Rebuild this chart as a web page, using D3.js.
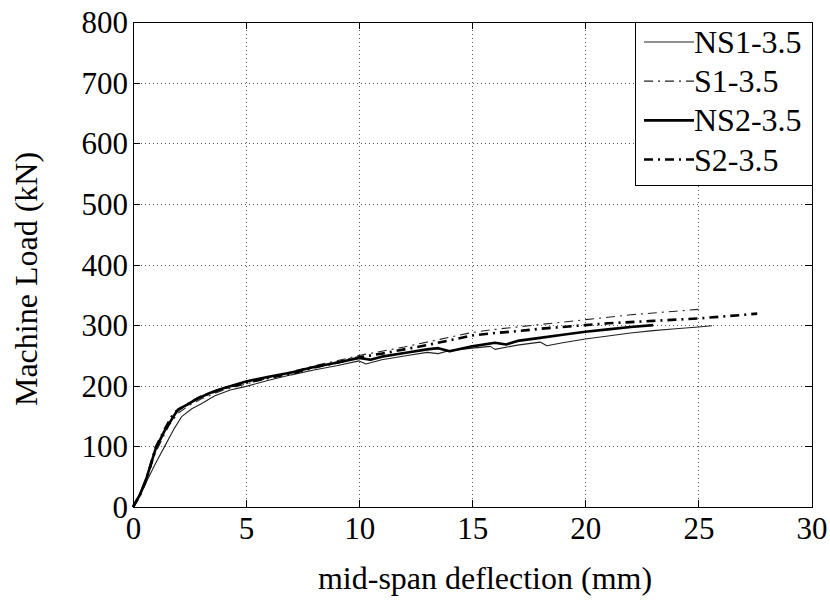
<!DOCTYPE html>
<html>
<head>
<meta charset="utf-8">
<script src="https://cdn.jsdelivr.net/npm/d3@7"></script>
<style>
  html, body { margin: 0; padding: 0; background: #fff; }
  svg { display: block; }
  text { font-family: "Liberation Serif", "Times New Roman", serif; fill: #000; }
</style>
</head>
<body>
<svg id="chart" width="830" height="603"></svg>
<script>
// Load–deflection readings for the four beams (deflection in mm, load in kN)
const seriesNames = ["NS1-3.5", "S1-3.5", "NS2-3.5", "S2-3.5"];

const ns1Defl = [0, 0.3, 0.6, 1.0, 1.4, 1.8, 2.15, 2.6, 3.0, 3.6, 4.3, 5.0, 6, 7, 8, 9, 10, 10.3, 11, 12, 13, 13.5, 14, 15, 15.8, 16, 17, 18, 18.3, 19, 20, 21, 22, 23, 24, 25, 25.6];
const ns1Load = [0, 18, 42, 72, 100, 128, 149, 162, 170, 183, 193, 199, 209, 218, 226, 233, 241, 236, 243, 249, 255, 253, 258, 262, 265, 260, 267, 272, 266, 271, 277, 282, 287, 291, 294, 297, 299];

const s1Defl = [0, 0.3, 0.6, 1.0, 1.6, 2.0, 2.5, 3, 4, 5, 6, 7, 8, 9, 10, 11, 12, 13, 14, 15, 16, 17, 18, 19, 20, 21, 22, 23, 24, 25];
const s1Load = [0, 18, 44, 90, 135, 155, 168, 178, 193, 203, 213, 223, 233, 241, 250, 257, 264, 272, 280, 288, 293, 297, 301, 305, 309, 313, 317, 320, 323, 326];

const ns2Defl = [0, 0.3, 0.6, 1.0, 1.4, 1.8, 2.0, 2.4, 2.8, 3.4, 4.0, 5, 6, 7, 8, 9, 10, 10.5, 11, 12, 13, 13.5, 14, 15, 16, 16.5, 17, 18, 19, 20, 21, 22, 23];
const ns2Load = [0, 20, 48, 96, 126, 150, 161, 169, 178, 188, 196, 207, 215, 222, 231, 238, 246, 243, 248, 254, 260, 262, 257, 265, 271, 268, 274, 279, 284, 289, 293, 297, 300];

const s2Defl = [0, 0.3, 0.6, 1.0, 1.4, 1.8, 2.2, 3, 4, 5, 6, 7, 8, 9, 10, 11, 12, 13, 14, 15, 16, 17, 18, 19, 20, 21, 22, 23, 24, 25, 26, 27, 27.6];
const s2Load = [0, 19, 46, 98, 128, 155, 165, 182, 196, 205, 213, 220, 230, 238, 247, 253, 260, 267, 275, 283, 287, 290, 294, 297, 300, 303, 305, 307, 309, 311, 314, 317, 319];

const xTicks = [0, 5, 10, 15, 20, 25, 30];
const yTicks = [0, 100, 200, 300, 400, 500, 600, 700, 800];

const svg = d3.select("#chart");
const plot = { left: 133, right: 811.5, top: 22, bottom: 507 };

const x = d3.scaleLinear().domain([0, 30]).range([plot.left, plot.right]);
const y = d3.scaleLinear().domain([0, 800]).range([plot.bottom, plot.top]);

// Dotted grid
const grid = svg.append("g").attr("stroke", "#555").attr("stroke-width", 1)
  .attr("stroke-dasharray", "1,3").attr("shape-rendering", "crispEdges");
grid.selectAll("line.gx").data(xTicks.slice(1, -1)).join("line")
  .attr("x1", d => Math.round(x(d)) + 0.5).attr("x2", d => Math.round(x(d)) + 0.5)
  .attr("y1", plot.top).attr("y2", plot.bottom);
grid.selectAll("line.gy").data(yTicks.slice(1, -1)).join("line")
  .attr("y1", d => Math.round(y(d)) + 0.5).attr("y2", d => Math.round(y(d)) + 0.5)
  .attr("x1", plot.left).attr("x2", plot.right);

// Curves
const line = d3.line().x(d => x(d[0])).y(d => y(d[1]));
const zip = (a, b) => a.map((v, i) => [v, b[i]]);

const styles = [
  { defl: ns1Defl, load: ns1Load, width: 1.1, dash: null, color: "#222" },
  { defl: s1Defl, load: s1Load, width: 1.1, dash: "9,5,2,5", color: "#222" },
  { defl: ns2Defl, load: ns2Load, width: 2.6, dash: null, color: "#000" },
  { defl: s2Defl, load: s2Load, width: 2.6, dash: "9,5,2,5", color: "#000" }
];

const curves = svg.append("g");
styles.forEach(s => {
  curves.append("path")
    .datum(zip(s.defl, s.load))
    .attr("d", line)
    .attr("fill", "none")
    .attr("stroke", s.color)
    .attr("stroke-width", s.width)
    .attr("stroke-linejoin", "round")
    .attr("stroke-dasharray", s.dash);
});

// Axes box with inward ticks on all four sides
const tickLen = 7;
const axisG = svg.append("g").attr("stroke", "#000").attr("stroke-width", 1).attr("shape-rendering", "crispEdges");
axisG.append("rect")
  .attr("x", plot.left + 0.5).attr("y", plot.top + 0.5)
  .attr("width", plot.right - plot.left).attr("height", plot.bottom - plot.top)
  .attr("fill", "none");

const bottomAxis = d3.axisBottom(x).tickValues(xTicks).tickSizeInner(-tickLen).tickSizeOuter(0).tickPadding(12);
const leftAxis = d3.axisLeft(y).tickValues(yTicks).tickSizeInner(-tickLen).tickSizeOuter(0).tickPadding(12);
const topAxis = d3.axisTop(x).tickValues(xTicks).tickSizeInner(-tickLen).tickSizeOuter(0).tickFormat("");
const rightAxis = d3.axisRight(y).tickValues(yTicks).tickSizeInner(-tickLen).tickSizeOuter(0).tickFormat("");

function styleAxis(g) {
  g.select(".domain").remove();
  g.selectAll(".tick line").attr("stroke", "#000").attr("shape-rendering", "crispEdges");
  g.selectAll(".tick text").attr("fill", "#000")
    .style("font-family", "\"Liberation Serif\", \"Times New Roman\", serif")
    .style("font-size", "31px");
}

svg.append("g").attr("transform", `translate(0,${plot.bottom})`).call(bottomAxis).call(styleAxis)
  .selectAll(".tick text").attr("dy", "0.71em").attr("y", 10);
svg.append("g").attr("transform", `translate(${plot.left},0)`).call(leftAxis).call(styleAxis)
  .selectAll(".tick text").attr("x", -5).attr("dy", "0.34em");
svg.append("g").attr("transform", `translate(0,${plot.top})`).call(topAxis).call(styleAxis);
svg.append("g").attr("transform", `translate(${plot.right},0)`).call(rightAxis).call(styleAxis);

// Axis titles
svg.append("text")
  .attr("x", 485).attr("y", 589)
  .attr("text-anchor", "middle")
  .style("font-size", "32px")
  .text("mid-span deflection (mm)");

svg.append("text")
  .attr("transform", "translate(37,279) rotate(-90)")
  .attr("text-anchor", "middle")
  .style("font-size", "32px")
  .text("Machine Load (kN)");

// Legend
const legend = { left: 635, top: 22, right: 811.5, bottom: 185 };
const lg = svg.append("g");
lg.append("rect")
  .attr("x", legend.left + 0.5).attr("y", legend.top + 0.5)
  .attr("width", legend.right - legend.left).attr("height", legend.bottom - legend.top)
  .attr("fill", "#fff").attr("stroke", "#000").attr("stroke-width", 1)
  .attr("shape-rendering", "crispEdges");

const rowY = d3.scalePoint().domain(seriesNames).range([42, 159.5]);
seriesNames.forEach((name, i) => {
  const s = styles[i];
  const yy = rowY(name);
  lg.append("line")
    .attr("x1", 644).attr("x2", 694)
    .attr("y1", yy).attr("y2", yy)
    .attr("stroke", s.color).attr("stroke-width", s.width)
    .attr("stroke-dasharray", s.dash);
  lg.append("text")
    .attr("x", 694).attr("y", yy + 11)
    .style("font-size", "32px")
    .text(name);
});
</script>
</body>
</html>
